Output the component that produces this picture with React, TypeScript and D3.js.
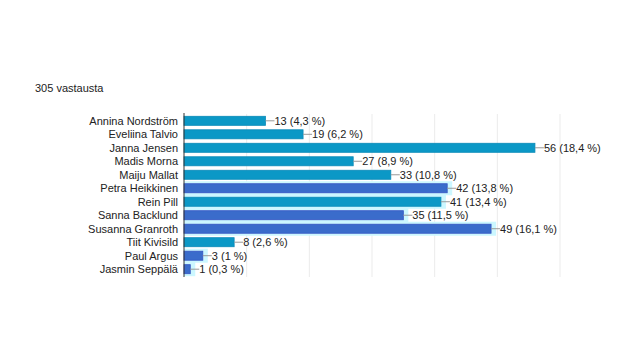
import React from "react";
import * as d3 from "d3";

const names = [
  "Annina Nordström",
  "Eveliina Talvio",
  "Janna Jensen",
  "Madis Morna",
  "Maiju Mallat",
  "Petra Heikkinen",
  "Rein Pill",
  "Sanna Backlund",
  "Susanna Granroth",
  "Tiit Kivisild",
  "Paul Argus",
  "Jasmin Seppälä",
];
const counts = [13, 19, 56, 27, 33, 42, 41, 35, 49, 8, 3, 1];
const percents = ["4,3", "6,2", "18,4", "8,9", "10,8", "13,8", "13,4", "11,5", "16,1", "2,6", "1", "0,3"];
const highlighted = [false, false, false, false, false, true, false, true, true, false, true, true];
const backgroundMarked = [false, false, false, false, false, true, true, true, true, false, true, true];
const gridTicks = [0, 10, 20, 30, 40, 50, 60];
const totalLabel = "305 vastausta";

export default function App() {
  const W = 640;
  const H = 360;
  const x = d3.scaleLinear().domain([0, 60]).range([184, 560]);
  const y = d3.scaleBand<string>().domain(names).range([114, 276]).paddingInner(0.33).paddingOuter(0.17);
  const font = "Arial, 'Liberation Sans', sans-serif";
  const bh = y.bandwidth();
  return (
    <svg width={W} height={H} style={{ position: "absolute", left: 0, top: 0, background: "#fff" }} fontFamily={font}>
      <text x={35} y={92} fontSize={11} fill="#222">{totalLabel}</text>
      {gridTicks.slice(1).map((t) => (
        <line key={t} x1={x(t)} x2={x(t)} y1={114} y2={277} stroke="#ebebeb" strokeWidth={1} />
      ))}
      {names.map((n, i) =>
        backgroundMarked[i] ? (
          <rect key={"h" + n} x={x(0)} y={(y(n) as number) - 2.5} width={x(counts[i]) - x(0) + 5} height={bh + 5} fill="#ccf7ff" />
        ) : null
      )}
      {names.map((n, i) => {
        const y0 = y(n) as number;
        const xe = x(counts[i]);
        const hl = highlighted[i];
        return (
          <g key={n}>
            <text x={178} y={y0 + bh / 2} dy="0.35em" textAnchor="end" fontSize={11} fill="#222">{n}</text>
            <rect x={x(0)} y={y0} width={xe - x(0)} height={bh} fill={hl ? "#3a6ccb" : "#0b98c6"} stroke={hl ? "#3654c2" : "#0a8ab8"} strokeWidth={0.8} />
            <line x1={xe} x2={xe + 9} y1={y0 + bh / 2} y2={y0 + bh / 2} stroke="#999" strokeWidth={1} />
            <text x={xe + 9} y={y0 + bh / 2} dy="0.35em" fontSize={11} fill="#222">{`${counts[i]} (${percents[i]} %)`}</text>
          </g>
        );
      })}
      <line x1={x(0)} x2={x(0)} y1={113} y2={277} stroke="#333" strokeWidth={1} />
    </svg>
  );
}
